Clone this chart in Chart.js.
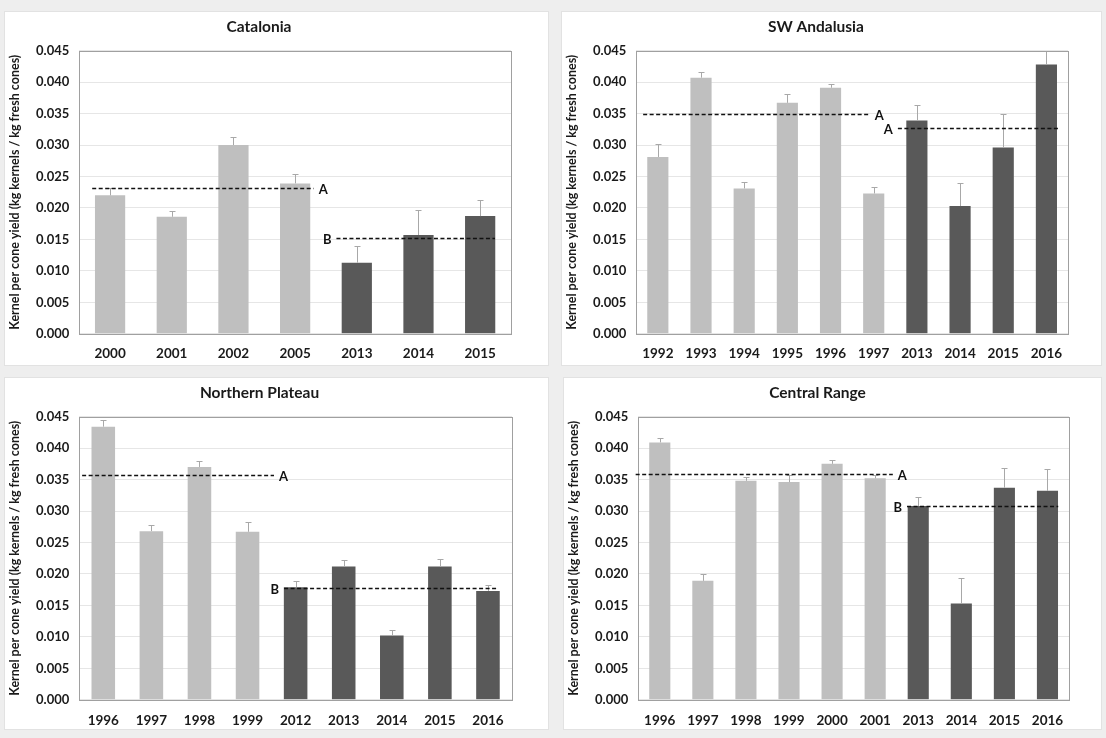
<!DOCTYPE html>
<html>
<head>
<meta charset="utf-8">
<script src="https://cdn.jsdelivr.net/npm/chart.js@4"></script>
<style>
 body { margin: 0; background: #eeeeee; width: 1106px; height: 738px; position: relative; overflow: hidden; }
 .panel { position: absolute; background: #fff; border: 1px solid #e2e2e2; }
 .panel canvas { display: block; }
 #p1 { left: 4px; top: 11px; }
 #p2 { left: 561px; top: 11px; }
 #p3 { left: 4px; top: 377px; }
 #p4 { left: 563px; top: 377px; }
</style>
</head>
<body>
<div class="panel" id="p1"><canvas id="c1" width="543" height="353"></canvas></div>
<div class="panel" id="p2"><canvas id="c2" width="539" height="353"></canvas></div>
<div class="panel" id="p3"><canvas id="c3" width="543" height="351"></canvas></div>
<div class="panel" id="p4"><canvas id="c4" width="537" height="351"></canvas></div>
<script>
// Catalonia
const catYears = ["2000", "2001", "2002", "2005", "2013", "2014", "2015"];
const catYield = [0.0220, 0.0186, 0.0300, 0.0239, 0.0113, 0.0157, 0.0187];
const catSE = [0.0011, 0.0009, 0.0012, 0.0015, 0.0026, 0.0040, 0.0026];
const catOld = 4; // number of years in the first period
const catMeans = [0.0232, 0.0152];
const catLetters = ["A", "B"];

// SW Andalusia
const andYears = ["1992", "1993", "1994", "1995", "1996", "1997", "2013", "2014", "2015", "2016"];
const andYield = [0.0281, 0.0407, 0.0231, 0.0367, 0.0391, 0.0223, 0.0339, 0.0203, 0.0296, 0.0428];
const andSE = [0.0021, 0.0009, 0.0011, 0.0014, 0.0006, 0.0010, 0.0024, 0.0037, 0.0053, 0.0021];
const andOld = 6;
const andMeans = [0.0349, 0.0327];
const andLetters = ["A", "A"];

// Northern Plateau
const norYears = ["1996", "1997", "1998", "1999", "2012", "2013", "2014", "2015", "2016"];
const norYield = [0.0434, 0.0268, 0.0370, 0.0267, 0.0179, 0.0212, 0.0102, 0.0212, 0.0173];
const norSE = [0.0010, 0.0010, 0.0009, 0.0015, 0.0010, 0.0010, 0.0009, 0.0012, 0.0009];
const norOld = 4;
const norMeans = [0.0357, 0.0178];
const norLetters = ["A", "B"];

// Central Range
const cenYears = ["1996", "1997", "1998", "1999", "2000", "2001", "2013", "2014", "2015", "2016"];
const cenYield = [0.0409, 0.0189, 0.0348, 0.0346, 0.0375, 0.0352, 0.0308, 0.0153, 0.0337, 0.0332];
const cenSE = [0.0007, 0.0011, 0.0006, 0.0011, 0.0006, 0.0005, 0.0014, 0.0040, 0.0031, 0.0035];
const cenOld = 6;
const cenMeans = [0.0359, 0.0308];
const cenLetters = ["A", "B"];

const yTicks = [0, 0.005, 0.010, 0.015, 0.020, 0.025, 0.030, 0.035, 0.040, 0.045];

const LIGHT = "#bfbfbf";
const DARK = "#595959";
const FONT = "Lato, 'Open Sans', sans-serif";

// error bars, period means, plot frame
const extras = {
 id: "extras",
 afterDatasetsDraw(chart, args, opts) {
  const { ctx, chartArea: a, scales: { x, y } } = chart;
  const meta = chart.getDatasetMeta(0);
  const vals = chart.data.datasets[0].data;
  ctx.save();

  ctx.strokeStyle = "#a8a8a8";
  ctx.lineWidth = 1;
  opts.se.forEach((e, i) => {
   const px = Math.round(meta.data[i].x) + 0.5;
   const y0 = y.getPixelForValue(vals[i]);
   const y1 = Math.round(y.getPixelForValue(vals[i] + e)) + 0.5;
   ctx.beginPath();
   ctx.moveTo(px, y0);
   ctx.lineTo(px, y1);
   ctx.moveTo(px - 3, y1);
   ctx.lineTo(px + 3, y1);
   ctx.stroke();
  });

  ctx.strokeStyle = "#a0a0a0";
  ctx.strokeRect(Math.round(a.left) + 0.5, Math.round(a.top) + 0.5, Math.round(a.width), Math.round(a.height));

  const step = x.getPixelForValue(1) - x.getPixelForValue(0);
  const x00 = x.getPixelForValue(0);
  ctx.font = "bold 13px " + FONT;
  ctx.fillStyle = "#111";
  ctx.textBaseline = "middle";
  opts.means.forEach((m, k) => {
   const [f, t] = opts.spans[k];
   const xa = x00 + f * step, xb = x00 + t * step;
   const py = Math.round(y.getPixelForValue(m)) + 0.5;
   ctx.strokeStyle = "#111";
   ctx.lineWidth = 1.4;
   ctx.setLineDash([4, 2.5]);
   ctx.beginPath();
   ctx.moveTo(xa, py);
   ctx.lineTo(xb, py);
   ctx.stroke();
   ctx.setLineDash([]);
   if (opts.sides[k] === "right") {
    ctx.textAlign = "left";
    ctx.fillText(opts.letters[k], xb + 5, py + 1);
   } else {
    ctx.textAlign = "right";
    ctx.fillText(opts.letters[k], xa - 5, py + 1);
   }
  });
  ctx.restore();
 },
};

function drawPanel(id, title, years, yields, se, nOld, means, letters, spans, padRight, padBottom, xPad) {
 const colors = years.map((_, i) => (i < nOld ? LIGHT : DARK));
 new Chart(document.getElementById(id), {
  type: "bar",
  data: {
   labels: years,
   datasets: [
    {
     data: yields,
     backgroundColor: colors,
     barPercentage: 0.49,
     categoryPercentage: 1,
    },
   ],
  },
  options: {
   responsive: false,
   animation: false,
   layout: { padding: { left: 2, right: padRight, top: 0, bottom: padBottom } },
   plugins: {
    legend: { display: false },
    tooltip: { enabled: false },
    title: {
     display: true,
     text: title,
     color: "#1a1a1a",
     font: { family: FONT, size: 15.5, weight: "bold" },
     padding: { top: 6, bottom: 14 },
    },
    extras: { se, means, letters, spans, sides: ["right", "left"] },
   },
   scales: {
    y: {
     min: 0,
     max: 0.045,
     afterBuildTicks: (s) => { s.ticks = yTicks.map((v) => ({ value: v })); },
     ticks: {
      callback: (v) => Number(v).toFixed(3),
      color: "#1a1a1a",
      padding: 10,
      font: { family: FONT, size: 13, weight: "bold" },
     },
     grid: { color: "#e6e6e6", drawTicks: false },
     border: { display: false },
     title: {
      display: true,
      text: "Kernel per cone yield (kg kernels / kg fresh cones)",
      color: "#1a1a1a",
      font: { family: FONT, size: 12.5, weight: "bold" },
      padding: { top: 0, bottom: 4 },
     },
    },
    x: {
     grid: { display: false, drawTicks: false },
     border: { display: false },
     ticks: {
      color: "#1a1a1a",
      padding: xPad,
      font: { family: FONT, size: 13.5, weight: "bold" },
     },
    },
   },
  },
  plugins: [extras],
 });
}

drawPanel("c1", "Catalonia", catYears, catYield, catSE, catOld, catMeans, catLetters,
 [[-0.29, 3.30], [3.67, 6.24]], 37, -9, 12);
drawPanel("c2", "SW Andalusia", andYears, andYield, andSE, andOld, andMeans, andLetters,
 [[-0.34, 4.91], [5.56, 9.32]], 33, -9, 12);
drawPanel("c3", "Northern Plateau", norYears, norYield, norSE, norOld, norMeans, norLetters,
 [[-0.44, 3.55], [3.76, 8.18]], 36, -13, 13);
drawPanel("c4", "Central Range", cenYears, cenYield, cenSE, cenOld, cenMeans, cenLetters,
 [[-0.56, 5.41], [5.74, 9.25]], 32, -13, 13);
</script>
</body>
</html>
